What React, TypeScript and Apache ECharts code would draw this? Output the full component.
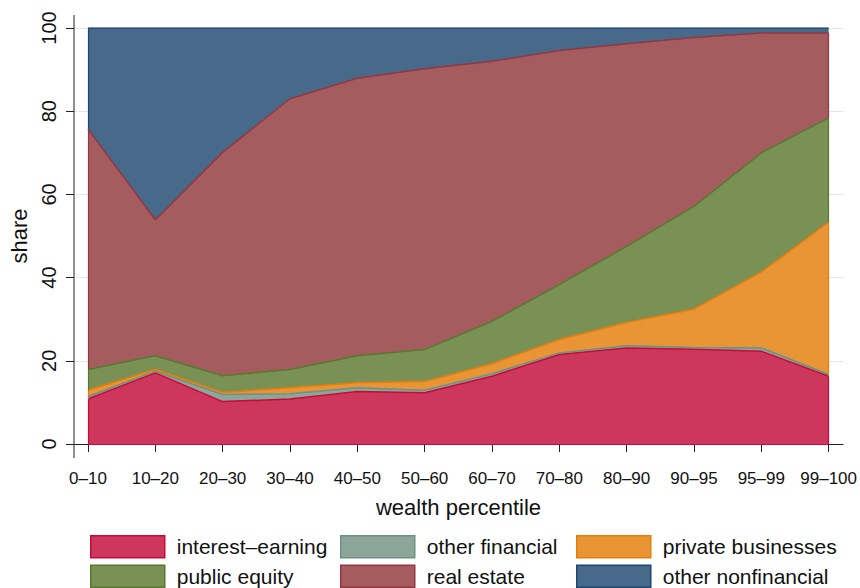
import React, { useEffect, useRef } from "react";
import * as echarts from "echarts";

const categories = ["0–10", "10–20", "20–30", "30–40", "40–50", "50–60", "60–70", "70–80", "80–90", "90–95", "95–99", "99–100"];
const interestEarning = [10.8, 17.1, 10.2, 10.8, 12.6, 12.3, 16.3, 21.5, 23.1, 22.8, 22.3, 16.3];
const otherFinancial = [0.6, 0.4, 1.7, 1.3, 0.9, 0.6, 0.6, 0.4, 0.5, 0.4, 0.8, 0.4];
const privateBusinesses = [1.5, 0.4, 0.5, 1.4, 1.2, 2.1, 2.4, 3.2, 5.6, 9.2, 18.2, 36.6];
const publicEquity = [5.0, 3.3, 4.0, 4.4, 6.5, 7.7, 10.2, 13.2, 18.3, 24.7, 28.7, 25.1];
const realEstate = [57.8, 32.7, 53.7, 65.1, 66.7, 67.5, 62.5, 56.3, 48.7, 40.6, 28.8, 20.4];
const otherNonfinancial = [24.3, 46.1, 29.9, 17.0, 12.1, 9.8, 8.0, 5.4, 3.8, 2.3, 1.2, 1.2];

const seriesDefs = [
  { name: "interest–earning", data: interestEarning, fill: "#CD375B", stroke: "#C90A36" },
  { name: "other financial", data: otherFinancial, fill: "#8DA69A", stroke: "#6D9087" },
  { name: "private businesses", data: privateBusinesses, fill: "#E99535", stroke: "#E87D0A" },
  { name: "public equity", data: publicEquity, fill: "#7A9156", stroke: "#557A2E" },
  { name: "real estate", data: realEstate, fill: "#A45C5F", stroke: "#943640" },
  { name: "other nonfinancial", data: otherNonfinancial, fill: "#476A8B", stroke: "#1D4670" },
];

const FONT = "'Liberation Sans', Arial, Helvetica, sans-serif";

export default function App() {
  const ref = useRef<HTMLDivElement>(null);
  useEffect(() => {
    if (!ref.current) return;
    const chart = echarts.init(ref.current, null, { renderer: "svg" });
    const legendCol = (names: string[], left: number) => ({
      orient: "vertical",
      left,
      top: 535,
      padding: 0,
      itemWidth: 74,
      itemHeight: 22,
      itemGap: 6,
      selectedMode: false,
      icon: "rect",
      textStyle: { fontFamily: FONT, fontSize: 21, color: "#111", padding: [0, 0, 0, 7] },
      data: names.map((n) => {
        const d = seriesDefs.find((s) => s.name === n)!;
        return { name: n, itemStyle: { color: d.fill, borderColor: d.stroke, borderWidth: 1.5 } };
      }),
    });
    const last = categories.length - 1;
    let cumulative = categories.map(() => 0);
    const series = seriesDefs.map((s, k) => {
      const bottom = cumulative.slice();
      const top = cumulative.map((c, i) => c + s.data[i]);
      cumulative = top;
      const edges: any[] = [
        [{ coord: [categories[0], bottom[0]] }, { coord: [categories[0], top[0]] }],
        [{ coord: [categories[last], bottom[last]] }, { coord: [categories[last], top[last]] }],
      ];
      if (k === 0) edges.push([{ coord: [categories[0], 0] }, { coord: [categories[last], 0] }]);
      return {
        name: s.name,
        type: "line",
        xAxisIndex: 1,
        yAxisIndex: 1,
        stack: "total",
        symbol: "none",
        data: s.data,
        lineStyle: { color: s.stroke, width: 1.5 },
        itemStyle: { color: s.fill },
        areaStyle: { color: s.fill, opacity: 1 },
        emphasis: { disabled: true },
        markLine: {
          silent: true,
          symbol: "none",
          label: { show: false },
          lineStyle: { color: s.stroke, width: 1.2, type: "solid" },
          emphasis: { disabled: true },
          data: edges,
        },
      };
    });
    chart.setOption({
      animation: false,
      grid: [
        { left: 74, right: 17, top: 28, bottom: 144, containLabel: false },
        { left: 88, right: 29.5, top: 28, bottom: 144, containLabel: false },
      ],
      xAxis: [
        {
          gridIndex: 0,
          type: "value",
          min: 0,
          max: 1,
          offset: 14,
          name: "wealth percentile",
          nameLocation: "middle",
          nameGap: 38,
          nameTextStyle: { fontFamily: FONT, fontSize: 22, color: "#111" },
          axisLine: { show: true, lineStyle: { color: "#222", width: 1 } },
          axisTick: { show: false },
          axisLabel: { show: false },
          splitLine: { show: false },
        },
        {
          gridIndex: 1,
          type: "category",
          data: categories,
          boundaryGap: false,
          offset: 14,
          axisLine: { show: false },
          axisTick: { show: true, length: 8, lineStyle: { color: "#222" } },
          axisLabel: { fontFamily: FONT, fontSize: 17, color: "#111", margin: 12, interval: 0 },
          splitLine: { show: false },
        },
      ],
      yAxis: [
        {
          gridIndex: 0,
          type: "value",
          min: 0,
          max: 100,
          interval: 20,
          name: "share",
          nameLocation: "middle",
          nameRotate: 90,
          nameGap: 44,
          nameTextStyle: { fontFamily: FONT, fontSize: 22, color: "#111" },
          axisLine: { show: false },
          axisTick: { show: true, length: 8, lineStyle: { color: "#222" } },
          axisLabel: { rotate: 90, fontFamily: FONT, fontSize: 20, color: "#111", margin: 15 },
          splitLine: { show: true, lineStyle: { color: "#E6E6E6", width: 1 } },
        },
        {
          gridIndex: 1,
          type: "value",
          min: 0,
          max: 100,
          show: false,
          splitLine: { show: false },
        },
      ],
      legend: [
        legendCol(["interest–earning", "public equity"], 90),
        legendCol(["other financial", "real estate"], 340),
        legendCol(["private businesses", "other nonfinancial"], 576),
      ],
      graphic: [
        { type: "line", shape: { x1: 74, y1: 15, x2: 74, y2: 458 }, style: { stroke: "#222", lineWidth: 1 }, z: 10 },
      ],
      series,
    });
    return () => chart.dispose();
  }, []);
  return <div ref={ref} style={{ position: "absolute", left: 0, top: 0, width: 860, height: 588 }} />;
}
